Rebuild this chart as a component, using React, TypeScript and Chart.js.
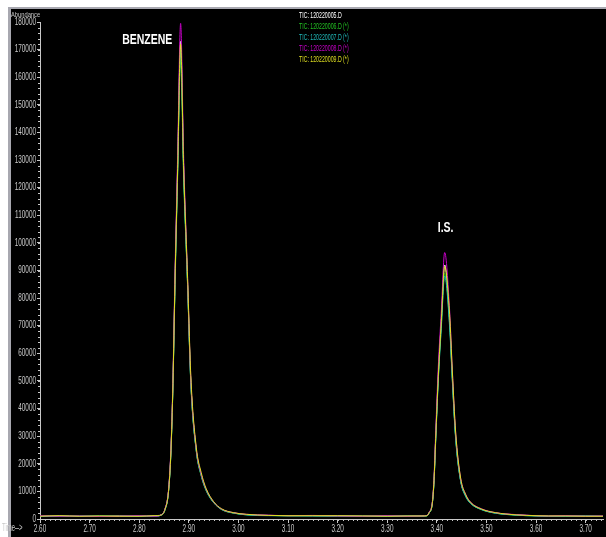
import React, { useEffect, useRef } from "react";
import { Chart, registerables } from "chart.js";

Chart.register(...registerables);

// Retention time (min)
const times = [
  2.600, 2.640, 2.680, 2.720, 2.760, 2.800, 2.830, 2.845, 2.852, 2.859, 2.864, 2.868, 2.872, 2.8775,
  2.8835, 2.8895, 2.8976, 2.904, 2.915, 2.925, 2.935, 2.950, 2.966, 2.990, 3.016, 3.060, 3.100, 3.150,
  3.200, 3.250, 3.300, 3.340, 3.370, 3.380, 3.3842, 3.3909, 3.3943, 3.3977, 3.4029, 3.409, 3.4158,
  3.4258, 3.4311, 3.4379, 3.448, 3.458, 3.4681, 3.490, 3.5184, 3.560, 3.600, 3.6255, 3.660, 3.700, 3.735,
];

const tic005 = [
  1000, 1100, 900, 1000, 1100, 1000, 1100, 1500, 3500, 10000, 25000, 49000, 85000, 128000,
  173000, 128000, 85000, 50000, 25000, 16000, 10500, 6000, 3500, 2200, 1600, 1300, 1200, 1200,
  1100, 1000, 1100, 1000, 1100, 1200, 2200, 5800, 14000, 29500, 52000, 72000, 92000,
  72000, 52000, 30000, 14000, 8500, 5800, 3500, 2200, 1500, 1200, 1000, 1100, 1000, 1000,
];
const tic006 = [
  1100, 1000, 1000, 1100, 1000, 1100, 1000, 1400, 3300, 9600, 24000, 47500, 82000, 124000,
  166000, 124000, 84000, 49000, 24500, 15500, 10200, 5900, 3400, 2100, 1500, 1300, 1100, 1200,
  1000, 1100, 1000, 1100, 1000, 1100, 2100, 5600, 13500, 28500, 50500, 70000, 89000,
  70500, 51000, 29500, 13800, 8300, 5700, 3400, 2100, 1400, 1100, 1100, 1000, 1100, 1000,
];
const tic007 = [
  900, 1000, 1100, 1000, 900, 1100, 1000, 1500, 3400, 9800, 24500, 48500, 84000, 126000,
  170000, 126000, 84500, 49500, 24800, 15800, 10400, 6000, 3500, 2200, 1500, 1200, 1200, 1100,
  1100, 1000, 1000, 1100, 1100, 1200, 2100, 5500, 13200, 28000, 50000, 69000, 88000,
  69500, 50500, 29000, 13700, 8200, 5600, 3400, 2100, 1400, 1100, 1000, 1000, 1100, 900,
];
const tic008 = [
  1200, 1000, 1100, 900, 1000, 1200, 1000, 1600, 3700, 10500, 26000, 51000, 88000, 132000,
  179500, 132000, 87000, 51000, 25500, 16200, 10800, 6200, 3600, 2300, 1700, 1400, 1200, 1300,
  1100, 1000, 1200, 1000, 1100, 1300, 2400, 6200, 15000, 31500, 55000, 75000, 96500,
  75500, 54500, 31500, 14800, 9000, 6100, 3700, 2300, 1600, 1200, 1100, 1200, 1000, 1100,
];
const tic009 = [
  1000, 1200, 1000, 1100, 1000, 1000, 1200, 1500, 3500, 9900, 24800, 49000, 85000, 127000,
  172000, 128000, 87000, 52000, 26000, 16800, 11000, 6300, 3700, 2300, 1700, 1300, 1200, 1200,
  1200, 1100, 1000, 1100, 1100, 1200, 2200, 5700, 13900, 29200, 51500, 71500, 91500,
  74000, 54000, 31500, 14800, 8900, 6000, 3600, 2300, 1500, 1200, 1100, 1100, 1000, 1000,
];

const seriesNames = [
  "TIC: 120220005.D",
  "TIC: 120220006.D (*)",
  "TIC: 120220007.D (*)",
  "TIC: 120220008.D (*)",
  "TIC: 120220009.D (*)",
];
const seriesValues = [tic005, tic006, tic007, tic008, tic009];
const seriesColors = ["#ffffff", "#22c022", "#20b8b8", "#c800c8", "#dede20"];

const xTickValues = [2.6, 2.7, 2.8, 2.9, 3.0, 3.1, 3.2, 3.3, 3.4, 3.5, 3.6, 3.7];
const yTickStep = 10000;
const yMax = 180000;
const xMin = 2.6;
const xMax = 3.735;

const peakLabels = [
  { text: "BENZENE", t: 2.8162, v: 173500 },
  { text: "I.S.", t: 3.4178, v: 105400 },
];

const FONT = '"Liberation Sans", Arial, sans-serif';
const AXIS_GRAY = "#c8c8c8";
const TICK_SQUEEZE = 0.64;

function condenseLabels(scale: any, factor: number) {
  if (!scale || scale.__condensed) return;
  const orig = scale.drawLabels;
  scale.drawLabels = function (area: any) {
    const ctx = this.ctx;
    const f = ctx.fillText;
    ctx.fillText = function (t: string, x: number, y: number) {
      this.save();
      this.translate(x, y);
      this.scale(factor, 1);
      f.call(this, t, 0, 0);
      this.restore();
    };
    try {
      orig.call(this, area);
    } finally {
      ctx.fillText = f;
    }
  };
  scale.__condensed = true;
}

const chromPlugin = {
  id: "chromPlugin",
  beforeDraw(chart: any) {
    condenseLabels(chart.scales.x, TICK_SQUEEZE);
    condenseLabels(chart.scales.y, TICK_SQUEEZE);
  },
  afterDraw(chart: any) {
    const { ctx } = chart;
    const xs = chart.scales.x;
    const ys = chart.scales.y;
    ctx.save();
    ctx.strokeStyle = AXIS_GRAY;
    ctx.lineWidth = 1;
    ctx.beginPath();
    for (let i = 0; i <= 113; i++) {
      const v = 2.6 + i * 0.01;
      if (v > xMax) break;
      const px = Math.round(xs.getPixelForValue(v)) + 0.5;
      ctx.moveTo(px, ys.bottom);
      ctx.lineTo(px, ys.bottom + 2);
    }
    for (let v = 0; v <= yMax; v += 2000) {
      const py = Math.round(ys.getPixelForValue(v)) + 0.5;
      ctx.moveTo(xs.left - 2, py);
      ctx.lineTo(xs.left, py);
    }
    ctx.stroke();
    ctx.fillStyle = "#ffffff";
    ctx.font = `bold 14px ${FONT}`;
    ctx.textAlign = "center";
    ctx.textBaseline = "middle";
    for (const p of peakLabels) {
      ctx.save();
      ctx.translate(xs.getPixelForValue(p.t), ys.getPixelForValue(p.v));
      ctx.scale(0.75, 1);
      ctx.fillText(p.text, 0, 0);
      ctx.restore();
    }
    ctx.restore();
  },
};

export default function App() {
  const ref = useRef<HTMLCanvasElement>(null);

  useEffect(() => {
    if (!ref.current) return;
    const datasets = seriesValues.map((vals, i) => ({
      label: seriesNames[i],
      data: times.map((t, k) => ({ x: t, y: vals[k] })),
      borderColor: seriesColors[i],
      backgroundColor: seriesColors[i],
      borderWidth: 1,
      pointRadius: 0,
      cubicInterpolationMode: "monotone" as const,
      order: seriesValues.length - 1 - i,
    }));
    const chart = new Chart(ref.current, {
      type: "line",
      data: { datasets },
      plugins: [chromPlugin],
      options: {
        animation: false,
        responsive: false,
        maintainAspectRatio: false,
        layout: { padding: { top: 22, right: 3, left: 0, bottom: 0 } },
        plugins: { legend: { display: false }, tooltip: { enabled: false } },
        scales: {
          x: {
            type: "linear",
            min: xMin,
            max: xMax,
            afterBuildTicks: (scale: any) => {
              scale.ticks = xTickValues.map((v) => ({ value: v }));
            },
            afterFit: (scale: any) => {
              scale.height = 18;
            },
            ticks: {
              autoSkip: false,
              maxRotation: 0,
              padding: 0,
              color: AXIS_GRAY,
              font: { family: FONT, size: 10 },
              callback: (v: any) => Number(v).toFixed(2),
            },
            grid: { drawOnChartArea: false, tickLength: 4, color: AXIS_GRAY },
            border: { display: true, color: AXIS_GRAY },
          },
          y: {
            type: "linear",
            min: 0,
            max: yMax,
            afterFit: (scale: any) => {
              scale.width = 40;
            },
            ticks: {
              stepSize: yTickStep,
              autoSkip: false,
              padding: 1,
              color: AXIS_GRAY,
              font: { family: FONT, size: 10 },
              callback: (v: any) => String(v),
            },
            grid: { drawOnChartArea: false, tickLength: 3, color: AXIS_GRAY },
            border: { display: true, color: AXIS_GRAY },
          },
        },
      },
    });
    return () => chart.destroy();
  }, []);

  const small: React.CSSProperties = {
    position: "absolute",
    fontFamily: FONT,
    whiteSpace: "nowrap",
    transformOrigin: "left center",
  };

  return (
    <div
      style={{
        position: "absolute",
        left: 0,
        top: 0,
        width: 606,
        height: 537,
        background: "#ffffff",
        overflow: "hidden",
      }}
    >
      <div
        style={{
          position: "absolute",
          left: 8,
          top: 7,
          width: 598,
          height: 530,
          background: "#000000",
          borderLeft: "3px solid #a8a8b0",
          borderTop: "2px solid #a8a8b0",
          boxSizing: "border-box",
        }}
      />
      <canvas
        ref={ref}
        width={606}
        height={537}
        style={{ position: "absolute", left: 0, top: 0, width: 606, height: 537 }}
      />
      <div
        style={{
          ...small,
          left: 11,
          top: 10,
          fontSize: 8,
          lineHeight: "10px",
          color: AXIS_GRAY,
          transform: "scaleX(0.72)",
        }}
      >
        Abundance
      </div>
      <div
        style={{
          ...small,
          left: 2,
          top: 522,
          fontSize: 10,
          lineHeight: "12px",
          color: AXIS_GRAY,
          transform: "scaleX(0.6)",
        }}
      >
        Time--&gt;
      </div>
      <div style={{ position: "absolute", left: 299, top: 10 }}>
        {seriesNames.map((n, i) => (
          <div
            key={n}
            style={{
              fontFamily: FONT,
              fontSize: 9,
              lineHeight: "11px",
              whiteSpace: "nowrap",
              color: seriesColors[i],
              transform: "scaleX(0.58)",
              transformOrigin: "left center",
            }}
          >
            {n}
          </div>
        ))}
      </div>
    </div>
  );
}
